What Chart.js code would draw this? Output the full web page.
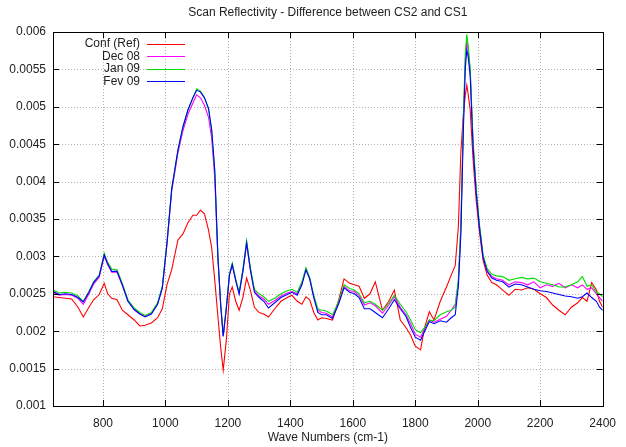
<!DOCTYPE html>
<html>
<head>
<meta charset="utf-8">
<script src="https://cdn.jsdelivr.net/npm/chart.js@4.4.0/dist/chart.umd.min.js"></script>
<style>
  html, body { margin: 0; padding: 0; background: #fff; }
</style>
</head>
<body>
<canvas id="reflChart" width="626" height="447"></canvas>
<script>
// wave numbers (cm-1)
const waves = [640, 660, 680, 700, 720, 737, 755, 770, 788, 804, 815, 828, 845, 862, 880, 900, 918, 935, 955, 975,
  990, 1005, 1020, 1040, 1056, 1072, 1088, 1100, 1112, 1125, 1138, 1148, 1158, 1168, 1177, 1185, 1195, 1205, 1214, 1225,
  1236, 1248, 1260, 1272, 1285, 1300, 1315, 1330, 1350, 1370, 1390, 1405, 1422, 1437, 1450, 1462, 1475, 1488, 1500, 1515,
  1535, 1555, 1572, 1590, 1605, 1620, 1637, 1655, 1672, 1695, 1715, 1733, 1752, 1770, 1785, 1800, 1817, 1830, 1845, 1860,
  1880, 1900, 1915, 1928, 1938, 1946, 1954, 1960, 1965, 1970, 1976, 1985, 1995, 2005, 2017, 2030, 2045, 2060, 2080, 2100,
  2120, 2140, 2160, 2180, 2200, 2220, 2240, 2260, 2280, 2300, 2320, 2335, 2350, 2365, 2380, 2390, 2400];

const confRef = [0.00246, 0.00245, 0.00244, 0.00243, 0.00232, 0.00219, 0.00232, 0.00242, 0.00249, 0.00264, 0.00250, 0.00244, 0.00242, 0.00228, 0.00222, 0.00215, 0.00207, 0.00208, 0.00211, 0.00218,
  0.00230, 0.00262, 0.00282, 0.00322, 0.00330, 0.00345, 0.00355, 0.00355, 0.00362, 0.00357, 0.00335, 0.00312, 0.00268, 0.00220, 0.00178, 0.00148, 0.00188, 0.00250, 0.00259, 0.00240,
  0.00228, 0.00245, 0.00271, 0.00255, 0.00232, 0.00225, 0.00223, 0.00219, 0.00230, 0.00240, 0.00245, 0.00248, 0.00240, 0.00236, 0.00246, 0.00242, 0.00225, 0.00215, 0.00218, 0.00217,
  0.00215, 0.00242, 0.00270, 0.00264, 0.00262, 0.00260, 0.00244, 0.00250, 0.00266, 0.00228, 0.00240, 0.00255, 0.00215, 0.00205, 0.00195, 0.00180, 0.00175, 0.00205, 0.00226, 0.00215,
  0.00240, 0.00259, 0.00275, 0.00288, 0.00340, 0.00440, 0.00490, 0.00515, 0.00529, 0.00515, 0.00495, 0.00430, 0.00375, 0.00335, 0.00295, 0.00275, 0.00265, 0.00262, 0.00255, 0.00248,
  0.00256, 0.00255, 0.00258, 0.00256, 0.00250, 0.00245, 0.00235, 0.00228, 0.00222, 0.00232, 0.00238, 0.00245, 0.00240, 0.00265, 0.00255, 0.00240, 0.00232];

const dec08 = [0.00252, 0.00248, 0.00249, 0.00248, 0.00244, 0.00236, 0.00250, 0.00263, 0.00272, 0.00300, 0.00289, 0.00279, 0.00279, 0.00261, 0.00240, 0.00229, 0.00223, 0.00220, 0.00224, 0.00237,
  0.00258, 0.00316, 0.00387, 0.00438, 0.00468, 0.00490, 0.00505, 0.00516, 0.00512, 0.00502, 0.00486, 0.00458, 0.00405, 0.00297, 0.00234, 0.00194, 0.00231, 0.00275, 0.00288, 0.00268,
  0.00250, 0.00280, 0.00317, 0.00282, 0.00254, 0.00247, 0.00243, 0.00236, 0.00241, 0.00247, 0.00251, 0.00253, 0.00250, 0.00264, 0.00283, 0.00270, 0.00246, 0.00228, 0.00225, 0.00224,
  0.00219, 0.00238, 0.00260, 0.00254, 0.00253, 0.00248, 0.00235, 0.00238, 0.00234, 0.00224, 0.00235, 0.00246, 0.00232, 0.00222, 0.00210, 0.00196, 0.00192, 0.00203, 0.00215, 0.00212,
  0.00216, 0.00220, 0.00228, 0.00236, 0.00265, 0.00338, 0.00478, 0.00560, 0.00589, 0.00574, 0.00546, 0.00452, 0.00388, 0.00342, 0.00300, 0.00281, 0.00273, 0.00270, 0.00268, 0.00262,
  0.00266, 0.00265, 0.00262, 0.00266, 0.00258, 0.00262, 0.00260, 0.00264, 0.00258, 0.00262, 0.00258, 0.00262, 0.00256, 0.00258, 0.00250, 0.00245, 0.00240];

const jan09 = [0.00255, 0.00251, 0.00252, 0.00251, 0.00247, 0.00240, 0.00253, 0.00266, 0.00275, 0.00304, 0.00292, 0.00283, 0.00282, 0.00264, 0.00242, 0.00231, 0.00225, 0.00221, 0.00225, 0.00238,
  0.00260, 0.00319, 0.00390, 0.00442, 0.00473, 0.00495, 0.00512, 0.00524, 0.00521, 0.00512, 0.00497, 0.00468, 0.00413, 0.00300, 0.00236, 0.00195, 0.00232, 0.00277, 0.00291, 0.00270,
  0.00252, 0.00283, 0.00321, 0.00285, 0.00256, 0.00250, 0.00246, 0.00240, 0.00244, 0.00250, 0.00254, 0.00256, 0.00252, 0.00266, 0.00285, 0.00272, 0.00248, 0.00230, 0.00228, 0.00227,
  0.00222, 0.00240, 0.00262, 0.00257, 0.00255, 0.00250, 0.00238, 0.00240, 0.00236, 0.00228, 0.00237, 0.00248, 0.00236, 0.00226, 0.00215, 0.00202, 0.00198, 0.00205, 0.00215, 0.00214,
  0.00222, 0.00226, 0.00228, 0.00232, 0.00270, 0.00345, 0.00485, 0.00570, 0.00597, 0.00580, 0.00550, 0.00455, 0.00392, 0.00345, 0.00302, 0.00284, 0.00276, 0.00274, 0.00273, 0.00268,
  0.00270, 0.00272, 0.00270, 0.00271, 0.00266, 0.00264, 0.00262, 0.00259, 0.00259, 0.00262, 0.00266, 0.00273, 0.00260, 0.00262, 0.00252, 0.00250, 0.00246];

const fev09 = [0.00253, 0.00249, 0.00250, 0.00249, 0.00245, 0.00239, 0.00252, 0.00265, 0.00274, 0.00302, 0.00290, 0.00280, 0.00280, 0.00262, 0.00240, 0.00229, 0.00223, 0.00219, 0.00223, 0.00236,
  0.00258, 0.00318, 0.00390, 0.00442, 0.00473, 0.00496, 0.00512, 0.00522, 0.00520, 0.00512, 0.00498, 0.00470, 0.00415, 0.00300, 0.00235, 0.00193, 0.00230, 0.00275, 0.00289, 0.00268,
  0.00250, 0.00280, 0.00318, 0.00282, 0.00252, 0.00245, 0.00240, 0.00231, 0.00238, 0.00245, 0.00249, 0.00252, 0.00248, 0.00262, 0.00282, 0.00270, 0.00245, 0.00225, 0.00222, 0.00222,
  0.00217, 0.00237, 0.00258, 0.00252, 0.00250, 0.00245, 0.00230, 0.00230, 0.00225, 0.00218, 0.00230, 0.00242, 0.00230, 0.00220, 0.00205, 0.00192, 0.00188, 0.00200, 0.00213, 0.00210,
  0.00214, 0.00212, 0.00218, 0.00222, 0.00260, 0.00330, 0.00469, 0.00550, 0.00576, 0.00565, 0.00540, 0.00446, 0.00385, 0.00340, 0.00299, 0.00280, 0.00271, 0.00268, 0.00266, 0.00259,
  0.00263, 0.00262, 0.00259, 0.00256, 0.00254, 0.00253, 0.00251, 0.00249, 0.00247, 0.00246, 0.00244, 0.00246, 0.00251, 0.00245, 0.00240, 0.00232, 0.00228];

const xTicks = [800, 1000, 1200, 1400, 1600, 1800, 2000, 2200, 2400];
const yTicks = [0.001, 0.0015, 0.002, 0.0025, 0.003, 0.0035, 0.004, 0.0045, 0.005, 0.0055, 0.006];
const yTickLabels = ["0.001", "0.0015", "0.002", "0.0025", "0.003", "0.0035", "0.004", "0.0045", "0.005", "0.0055", "0.006"];

const seriesNames = ["Conf (Ref)", "Dec 08", "Jan 09", "Fev 09"];
const seriesColors = ["#ff0000", "#ff00ff", "#00dd00", "#0000ff"];
const seriesValues = [confRef, dec08, jan09, fev09];

const FONT = '12px "Liberation Sans", Arial, sans-serif';
const TEXT_COLOR = '#222';

function toPoints(vals) {
  const pts = [];
  for (let i = 0; i < waves.length; i++) {
    pts.push({x: waves[i], y: vals[i]});
  }
  return pts;
}

// dotted grid, frame, inward ticks, title, axis label and gnuplot-style key
const gnuplotDecor = {
  id: 'gnuplotDecor',
  beforeDatasetsDraw(chart) {
    const ctx = chart.ctx;
    const a = chart.chartArea;
    const xs = chart.scales.x;
    const ys = chart.scales.y;
    ctx.save();
    ctx.strokeStyle = '#b0b0b0';
    ctx.lineWidth = 1;
    ctx.setLineDash([1, 2]);
    ctx.beginPath();
    xTicks.forEach(t => {
      const px = Math.round(xs.getPixelForValue(t)) + 0.5;
      if (px > a.left + 2 && px < a.right - 2) {
        ctx.moveTo(px, a.top); ctx.lineTo(px, a.bottom);
      }
    });
    yTicks.forEach(t => {
      const py = Math.round(ys.getPixelForValue(t)) + 0.5;
      if (py > a.top + 2 && py < a.bottom - 2) {
        ctx.moveTo(a.left, py); ctx.lineTo(a.right, py);
      }
    });
    ctx.stroke();
    ctx.restore();
  },
  afterDraw(chart) {
    const ctx = chart.ctx;
    const a = chart.chartArea;
    const xs = chart.scales.x;
    const ys = chart.scales.y;
    ctx.save();
    ctx.strokeStyle = '#000';
    ctx.lineWidth = 1;
    ctx.beginPath();
    xTicks.forEach(t => {
      const px = Math.round(xs.getPixelForValue(t)) + 0.5;
      ctx.moveTo(px, a.bottom); ctx.lineTo(px, a.bottom - 6);
      ctx.moveTo(px, a.top); ctx.lineTo(px, a.top + 6);
    });
    yTicks.forEach(t => {
      const py = Math.round(ys.getPixelForValue(t)) + 0.5;
      ctx.moveTo(a.left, py); ctx.lineTo(a.left + 6, py);
      ctx.moveTo(a.right, py); ctx.lineTo(a.right - 6, py);
    });
    ctx.stroke();
    ctx.strokeRect(Math.round(a.left) + 0.5, Math.round(a.top) + 0.5,
      Math.round(a.right - a.left), Math.round(a.bottom - a.top));

    ctx.fillStyle = TEXT_COLOR;
    ctx.font = FONT;
    ctx.textAlign = 'center';
    ctx.textBaseline = 'middle';
    const cx = (a.left + a.right) / 2;
    ctx.fillText('Scan Reflectivity - Difference between CS2 and CS1', cx, 13);
    ctx.fillText('Wave Numbers (cm-1)', cx, 438);

    // key
    ctx.textAlign = 'right';
    for (let i = 0; i < seriesNames.length; i++) {
      const y = 44 + i * 12.4;
      ctx.fillStyle = TEXT_COLOR;
      ctx.fillText(seriesNames[i], 140, y);
      ctx.strokeStyle = seriesColors[i];
      ctx.beginPath();
      ctx.moveTo(147, Math.round(y) + 0.5);
      ctx.lineTo(185, Math.round(y) + 0.5);
      ctx.stroke();
    }
    ctx.restore();
  }
};

const datasets = seriesNames.map((name, i) => ({
  label: name,
  data: toPoints(seriesValues[i]),
  borderColor: seriesColors[i],
  backgroundColor: seriesColors[i],
  borderWidth: 1.1,
  pointRadius: 0,
  tension: 0,
  fill: false,
  order: seriesNames.length - i
}));

const hiddenGrid = { drawOnChartArea: false, drawTicks: false, color: 'rgba(0,0,0,0)' };

const ctx = document.getElementById('reflChart').getContext('2d');
const reflChart = new Chart(ctx, {
  type: 'line',
  data: { datasets: datasets },
  options: {
    responsive: false,
    animation: false,
    devicePixelRatio: 1,
    layout: { padding: { left: 0, right: 15, top: 32, bottom: 0 } },
    plugins: {
      legend: { display: false },
      tooltip: { enabled: false },
      title: { display: false }
    },
    scales: {
      x: {
        type: 'linear',
        min: 640,
        max: 2400,
        afterBuildTicks: (scale) => { scale.ticks = xTicks.map(v => ({value: v})); },
        afterFit: (scale) => { scale.height = 41; },
        grid: hiddenGrid,
        border: { display: false },
        ticks: {
          color: TEXT_COLOR,
          font: { family: '"Liberation Sans", Arial, sans-serif', size: 12 },
          padding: 10,
          maxRotation: 0,
          autoSkip: false,
          callback: (v) => String(v)
        }
      },
      y: {
        type: 'linear',
        min: 0.001,
        max: 0.006,
        afterBuildTicks: (scale) => { scale.ticks = yTicks.map(v => ({value: v})); },
        afterFit: (scale) => { scale.width = 53; },
        grid: hiddenGrid,
        border: { display: false },
        ticks: {
          color: TEXT_COLOR,
          font: { family: '"Liberation Sans", Arial, sans-serif', size: 12 },
          padding: 7,
          autoSkip: false,
          callback: (v, idx) => yTickLabels[idx]
        }
      }
    }
  },
  plugins: [gnuplotDecor]
});
</script>
</body>
</html>
